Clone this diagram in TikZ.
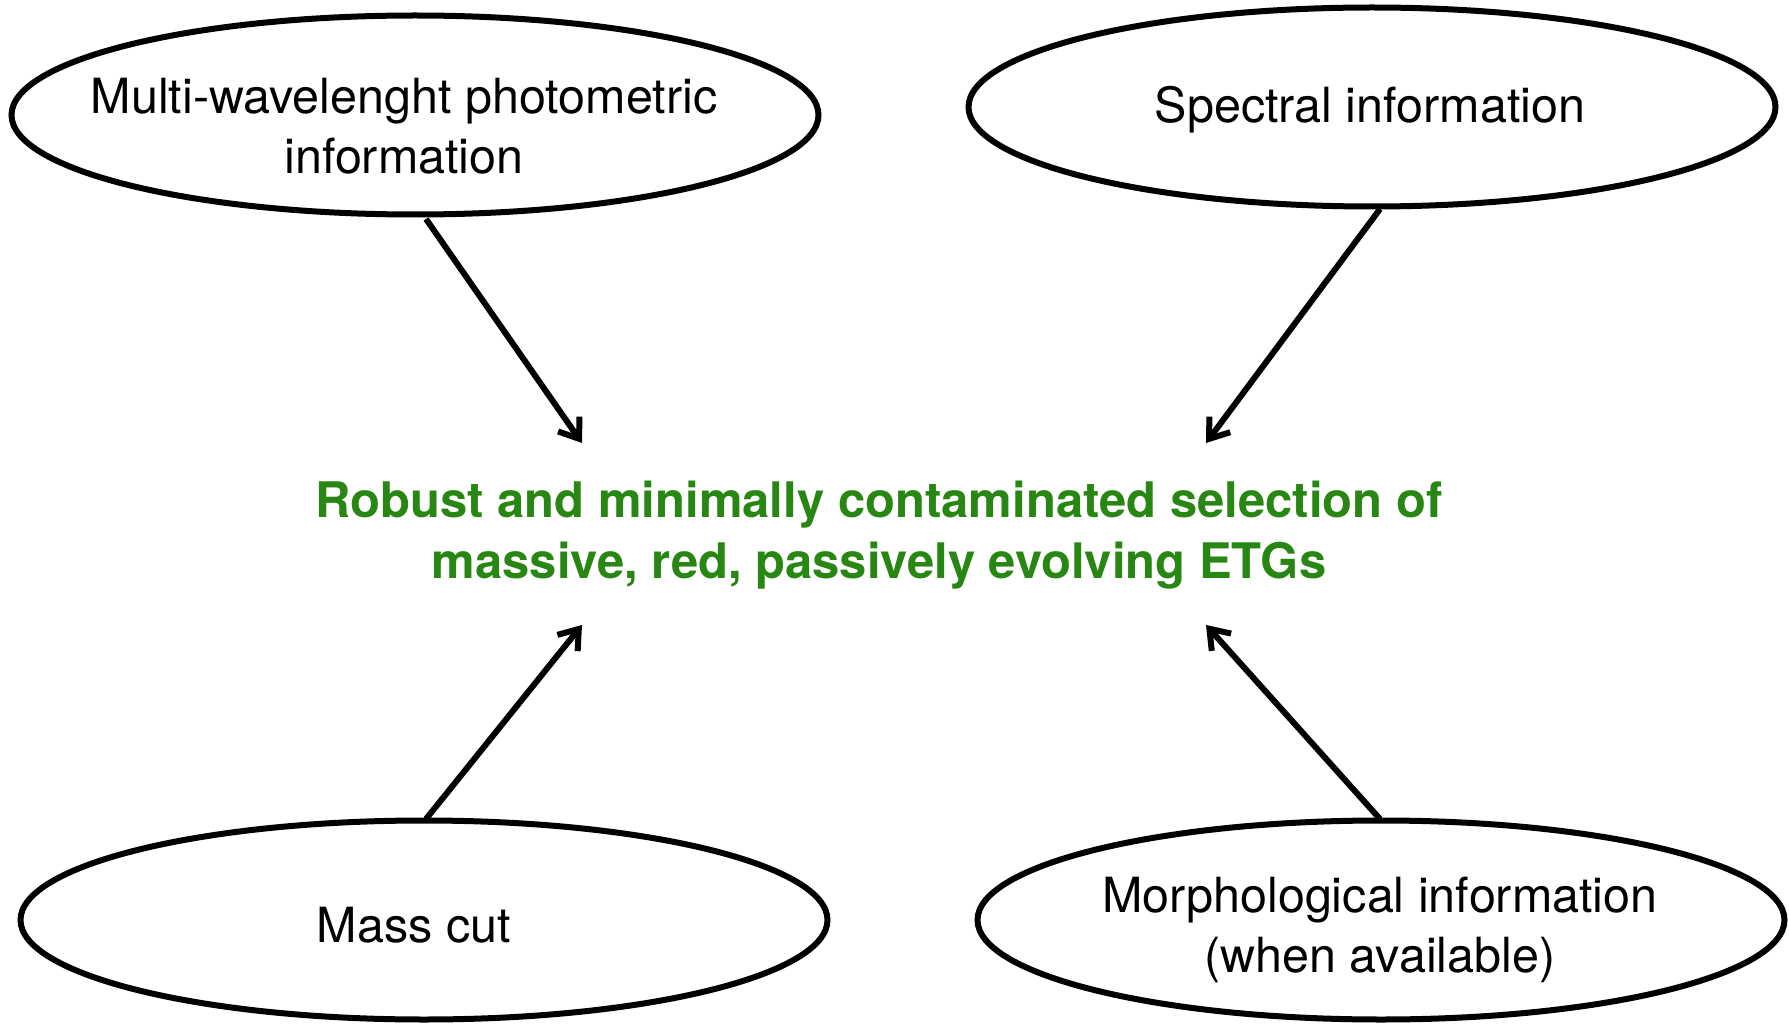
\documentclass[tikz,border=0pt]{standalone}
\usepackage{fontspec}
\setmainfont{TeX Gyre Heros}
\usetikzlibrary{shapes.geometric,arrows.meta}
\definecolor{etggreen}{RGB}{40,134,18}
\tikzset{
  oval/.style={draw=black, line width=6pt, ellipse, minimum width=807pt, minimum height=199pt, inner sep=0pt},
  ovaltext/.style={align=center, inner sep=0pt, font=\fontsize{48.5}{60}\selectfont},
  conn/.style={line width=6pt, -{Straight Barb[length=18pt,width=26pt,line width=6pt]}},
  goal/.style={align=center, text=etggreen, font=\fontsize{49}{60.5}\selectfont\bfseries}
}
\begin{document}
\begin{tikzpicture}[x=1pt,y=-1pt]
\useasboundingbox (0,0) rectangle (1789,1024);
\node[oval] (tl) at (415,115) {};
\node[oval] (tr) at (1372,107) {};
\node[oval] (bl) at (424,920) {};
\node[oval] (br) at (1381,920) {};
\node[ovaltext] (tlt) at (404,126) {Multi-wavelenght photometric\\information};
\node[ovaltext] (trt) at (1370,110) {Spectral information};
\node[ovaltext] (blt) at (414,925) {Mass cut};
\node[ovaltext] (brt) at (1380,930) {Morphological information\\(when available)};
\node[goal] (goal) at (879,535) {Robust and minimally contaminated selection of\\massive, red, passively evolving ETGs};
\coordinate (a1) at (582,443);
\coordinate (a2) at (1206,443);
\coordinate (a3) at (582,625);
\coordinate (a4) at (1206,625);
\coordinate (s1) at (426,219);
\coordinate (s2) at (1380,209);
\coordinate (s3) at (426,819);
\coordinate (s4) at (1380,819);
\draw[conn] (s1) -- (a1);
\draw[conn] (s2) -- (a2);
\draw[conn] (s3) -- (a3);
\draw[conn] (s4) -- (a4);
\end{tikzpicture}
\end{document}
